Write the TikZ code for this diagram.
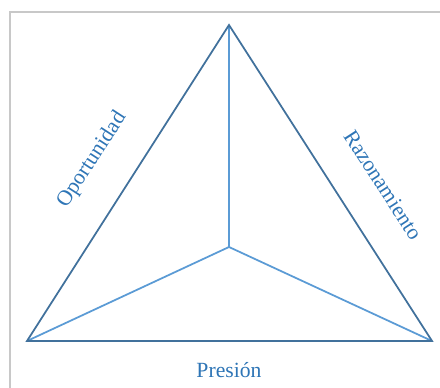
\documentclass[tikz,border=0pt]{standalone}
\usepackage{fontspec}
\setmainfont{Liberation Serif}
\usepackage{tikz}
\usetikzlibrary{calc}
\definecolor{edgeblue}{HTML}{41719C}
\definecolor{spokeblue}{HTML}{5B9BD5}
\definecolor{textblue}{HTML}{2E75B6}
\definecolor{framegray}{HTML}{C8C8C8}

\begin{document}
\begin{tikzpicture}[
    edge/.style={draw=edgeblue, line width=1.5pt, line join=miter},
    spoke/.style={draw=spokeblue, line width=1.5pt},
    side/.style={text=textblue, font=\fontsize{18.5}{22}\selectfont, inner sep=0pt}
  ]
    \useasboundingbox (0,0) rectangle (13.2,11.61);
    \clip (0,0) rectangle (13.2,11.61);

    % Frame
    \draw[framegray, line width=1.2pt] (0.30,-1) -- (0.30,11.25) -- (14,11.25);

    % Corners
    \coordinate (apex)   at (6.87,10.86);
    \coordinate (left)   at (0.81,1.38);
    \coordinate (right)  at (12.96,1.38);
    \coordinate (centre) at (6.87,4.20);

    % Spokes
    \draw[spoke] (apex) -- (centre);
    \draw[spoke] (left) -- (centre) -- (right);

    % Outer triangle
    \draw[edge] (apex) -- (left) -- (right) -- cycle;

    % Labels
    \node[side, rotate=57]  (opor) at (2.76,6.81)  {Oportunidad};
    \node[side, rotate=-57] (razo) at (11.49,6.06) {Razonamiento};
    \node[side]             (pres) at (6.87,0.51)  {Presión};
  \end{tikzpicture}
\end{document}
